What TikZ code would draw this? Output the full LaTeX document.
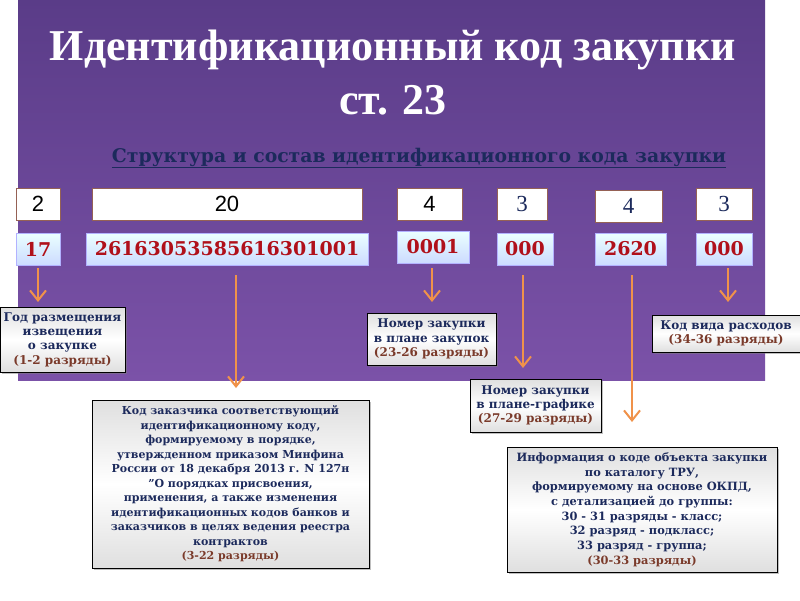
\documentclass[tikz,border=0pt]{standalone}
\usepackage{fontspec}
\setmainfont{DejaVu Serif}
\newfontfamily\lsf{Liberation Sans}
\newfontfamily\lser{Liberation Serif}
\usetikzlibrary{arrows.meta,shadows}
\definecolor{ptop}{HTML}{5A3C88}
\definecolor{pbot}{HTML}{7B52A8}
\definecolor{dred}{HTML}{B0101A}
\definecolor{dblue}{HTML}{1C2A5C}
\definecolor{brn}{HTML}{7A3A2A}
\definecolor{orng}{HTML}{F0924A}
\tikzset{
 wbox/.style={draw=brn!80,fill=white,line width=0.6pt},
 bbox/.style={draw=white!70!blue,top color=cyan!8,bottom color=cyan!30!blue!20,line width=0.6pt},
 gbox/.style={draw=black,line width=0.6pt,top color=gray!25,bottom color=gray!25,middle color=white,drop shadow={shadow xshift=2pt,shadow yshift=-2pt,opacity=0.5}},
 arr/.style={draw=orng,line width=2.6pt,-{Straight Barb[length=10pt,width=16pt,line width=2pt]}},
 lbl/.style={font=\bfseries\fontsize{12}{14.3}\selectfont,text=dblue,align=center}
}
\begin{document}
\begin{tikzpicture}[x=1pt,y=-1pt]
\useasboundingbox (0,0) rectangle (800,600);
\fill[white] (0,0) rectangle (800,600);
\shade[top color=ptop,bottom color=pbot] (18,0) rectangle (765,380);
\node[text=white,font=\lser\bfseries\fontsize{44}{48}\selectfont] (t1) at (393,50) {Идентификационный код закупки};
\node[text=white,font=\lser\bfseries\fontsize{44}{48}\selectfont] (t2) at (393,100) {ст. 23};
\node[text=dblue,font=\bfseries\fontsize{18.8}{22}\selectfont] (st) at (419,158) {\underline{Структура и состав идентификационного кода закупки}};
% white row
\tikzset{dg/.style={text=black,font=\lsf\fontsize{22}{24}\selectfont},ds/.style={text=dblue,font=\lser\fontsize{23}{24}\selectfont}}
\path[wbox] (16,188) rectangle (60,220) node[midway,dg] (w1) {2};
\path[wbox] (92,188) rectangle (362,220) node[midway,dg] (w2) {20};
\path[wbox] (397,188) rectangle (462,220) node[midway,dg] (w3) {4};
\path[wbox] (497,188) rectangle (547,220) node[midway,ds] (w4) {3};
\path[wbox] (595,190) rectangle (662,222) node[midway,ds] (w5) {4};
\path[wbox] (696,188) rectangle (752,220) node[midway,ds] (w6) {3};
% blue row
\tikzset{num/.style={text=dred,font=\bfseries\fontsize{19}{22}\selectfont}}
\path[bbox] (16,233) rectangle (60,265) node[midway,num] (b1) {17};
\path[bbox] (86,233) rectangle (368,265) node[midway,num] (b2) {26163053585616301001};
\path[bbox] (397,231) rectangle (469,263) node[midway,num] (b3) {0001};
\path[bbox] (497,233) rectangle (553,265) node[midway,num] (b4) {000};
\path[bbox] (595,233) rectangle (666,265) node[midway,num] (b5) {2620};
\path[bbox] (696,233) rectangle (752,265) node[midway,num] (b6) {000};
% label boxes
\node[gbox,lbl,minimum width=125pt,minimum height=65pt,inner sep=1pt] (gA) at (62.5,339.5) {Год размещения\\извещения\\о закупке\\\textcolor{brn}{(1-2 разряды)}};
\node[gbox,lbl,minimum width=129pt,minimum height=52pt,inner sep=1pt] (gB) at (431.5,339) {Номер закупки\\в плане закупок\\\textcolor{brn}{(23-26 разряды)}};
\node[gbox,lbl,minimum width=131pt,minimum height=53pt,inner sep=1pt] (gC) at (535.5,405.5) {Номер закупки\\в плане-графике\\\textcolor{brn}{(27-29 разряды)}};
\node[gbox,lbl,minimum width=148pt,minimum height=37pt,inner sep=1pt] (gD) at (726,333.5) {Код вида расходов\\\textcolor{brn}{(34-36 разряды)}};
\node[gbox,lbl,minimum width=277pt,minimum height=168pt,inner sep=1pt,font=\bfseries\fontsize{11}{14.5}\selectfont] (gE) at (230.5,484) {Код заказчика соответствующий\\идентификационному коду,\\формируемому в порядке,\\утвержденном приказом Минфина\\России от 18 декабря 2013 г. N 127н\\"О порядках присвоения,\\применения, а также изменения\\идентификационных кодов банков и\\заказчиков в целях ведения реестра\\контрактов\\\textcolor{brn}{(3-22 разряды)}};
\node[gbox,lbl,minimum width=270pt,minimum height=125pt,inner sep=1pt,font=\bfseries\fontsize{11.4}{14.7}\selectfont] (gF) at (642,509.5) {Информация о коде объекта закупки\\по каталогу ТРУ,\\формируемому на основе ОКПД,\\с детализацией до группы:\\30 - 31 разряды - класс;\\32 разряд - подкласс;\\33 разряд - группа;\\\textcolor{brn}{(30-33 разряды)}};
% arrows
\coordinate (a1s) at (38,268); \coordinate (a1e) at (38,302);
\coordinate (a2s) at (236,275); \coordinate (a2e) at (236,388);
\coordinate (a3s) at (432,268); \coordinate (a3e) at (432,302);
\coordinate (a4s) at (523,275); \coordinate (a4e) at (523,368);
\coordinate (a5s) at (632,275); \coordinate (a5e) at (632,422);
\coordinate (a6s) at (728,268); \coordinate (a6e) at (728,302);
\foreach \i in {1,...,6}{\draw[arr] (a\i s) -- (a\i e);}
\end{tikzpicture}
\end{document}
